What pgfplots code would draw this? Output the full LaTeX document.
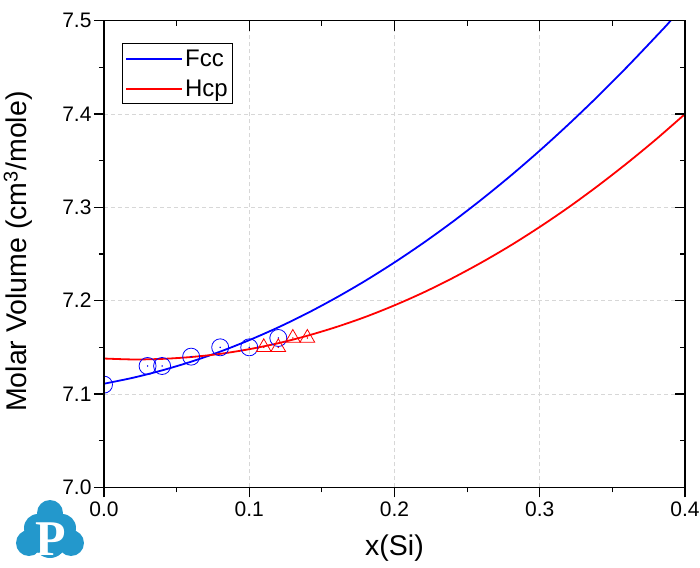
\documentclass[border=0pt]{standalone}
\usepackage{fontspec}
\setmainfont{Liberation Sans}
\newfontfamily\logofont{Liberation Serif}
\usepackage{pgfplots}
\pgfplotsset{compat=1.18}
\definecolor{logoblue}{RGB}{35,152,204}
\definecolor{gridgray}{RGB}{215,215,215}
\begin{document}
\begin{tikzpicture}[x=1pt,y=1pt]
\useasboundingbox (-104,-79.7) rectangle (596,487.3);
\begin{axis}[
  at={(0,0)}, anchor=south west, scale only axis,
  width=581pt, height=466.6pt,
  xmin=0, xmax=0.4, ymin=7.0, ymax=7.5,
  xtick={0,0.1,0.2,0.3,0.4}, xticklabels={0.0,0.1,0.2,0.3,0.4},
  ytick={7.0,7.1,7.2,7.3,7.4,7.5}, yticklabels={7.0,7.1,7.2,7.3,7.4,7.5},
  minor x tick num=1, minor y tick num=1,
  xtick pos=left, ytick pos=left, tick align=outside,
  major tick length=10pt, minor tick length=5pt,
  every tick/.style={black, line width=1.2pt},
  axis line style={line width=1.5pt},
  tick label style={font=\fontsize{21}{21}\selectfont},
  xticklabel style={yshift=-1pt},
  yticklabel style={xshift=1pt},
  grid=major, major grid style={gridgray, line width=0.8pt, dash pattern=on 4pt off 3pt},
  xlabel={x(Si)}, ylabel={Molar Volume (cm\textsuperscript{3}/mole)},
  label style={font=\fontsize{28.5}{28.5}\selectfont},
  xlabel style={at={(axis description cs:0.5,0)}, anchor=north, yshift=-44pt},
  ylabel style={at={(axis description cs:-0.148,0.505)}, anchor=center},
  legend style={at={(axis description cs:0.0305,0.9516)}, anchor=north west,
    draw=black, line width=0.8pt, font=\fontsize{24}{24}\selectfont,
    inner xsep=3pt, inner ysep=4pt, row sep=8pt},
  legend cell align=left,
  legend image code/.code={\draw[#1, line width=2pt] (0pt,0pt) -- (56pt,0pt);},
  clip marker paths=true,
]
\addplot[blue, line width=1.8pt, smooth] coordinates {
(0,7.1110)(0.02,7.1174)(0.04,7.1253)(0.06,7.1346)(0.08,7.1454)(0.10,7.1577)
(0.12,7.1714)(0.14,7.1866)(0.16,7.2033)(0.18,7.2214)(0.20,7.2410)(0.22,7.2620)
(0.24,7.2845)(0.26,7.3085)(0.28,7.3339)(0.30,7.3608)(0.32,7.3892)(0.34,7.4190)
(0.36,7.4503)(0.38,7.4830)(0.39,7.4999)(0.392,7.5068)};
\addlegendentry{Fcc}
\addplot[red, line width=1.8pt, smooth] coordinates {
(0,7.1380)(0.02,7.1370)(0.04,7.1376)(0.06,7.1396)(0.08,7.1430)(0.10,7.1480)
(0.12,7.1544)(0.14,7.1624)(0.16,7.1718)(0.18,7.1826)(0.20,7.1950)(0.22,7.2088)
(0.24,7.2242)(0.26,7.2410)(0.28,7.2592)(0.30,7.2790)(0.32,7.3002)(0.34,7.3230)
(0.36,7.3472)(0.38,7.3728)(0.40,7.4000)};
\addlegendentry{Hcp}
\addplot[blue, only marks, mark=o, mark size=8.5pt, mark options={line width=0.8pt}, forget plot] coordinates {
(0,7.11)(0.03,7.13)(0.04,7.13)(0.06,7.14)(0.08,7.15)(0.10,7.15)(0.12,7.16)};
\addplot[blue, only marks, mark=*, mark size=0.5pt, forget plot] coordinates {
(0,7.11)(0.03,7.13)(0.04,7.13)(0.06,7.14)(0.08,7.15)(0.10,7.15)(0.12,7.16)};
\addplot[red, only marks, mark=triangle, mark size=8.5pt, mark options={line width=0.8pt}, forget plot] coordinates {
(0.11,7.15)(0.12,7.15)(0.13,7.16)(0.14,7.16)};
\addplot[red, only marks, mark=*, mark size=0.5pt, forget plot] coordinates {
(0.11,7.15)(0.12,7.15)(0.13,7.16)(0.14,7.16)};
\end{axis}
\begin{axis}[
  at={(0,0)}, anchor=south west, scale only axis,
  width=581pt, height=466.6pt,
  xmin=0, xmax=0.4, ymin=7.0, ymax=7.5,
  xtick={0,0.1,0.2,0.3,0.4}, ytick={7.0,7.1,7.2,7.3,7.4,7.5},
  xticklabels={}, yticklabels={},
  minor x tick num=1, minor y tick num=1,
  xtick pos=right, ytick pos=right, tick align=inside,
  major tick length=10pt, minor tick length=5pt,
  every tick/.style={black, line width=1.2pt},
  axis line style={line width=1.5pt},
]
\end{axis}
\fill[logoblue] (-54,-25.7) circle (13) (-66,-40.7) circle (14) (-42,-40.7) circle (14)
  (-75,-55.7) circle (13) (-33,-55.7) circle (13) (-54,-54.7) circle (16);
\node[white, font=\logofont\bfseries\fontsize{50}{50}\selectfont, inner sep=0pt] at (-53,-52) {P};
\end{tikzpicture}
\end{document}
